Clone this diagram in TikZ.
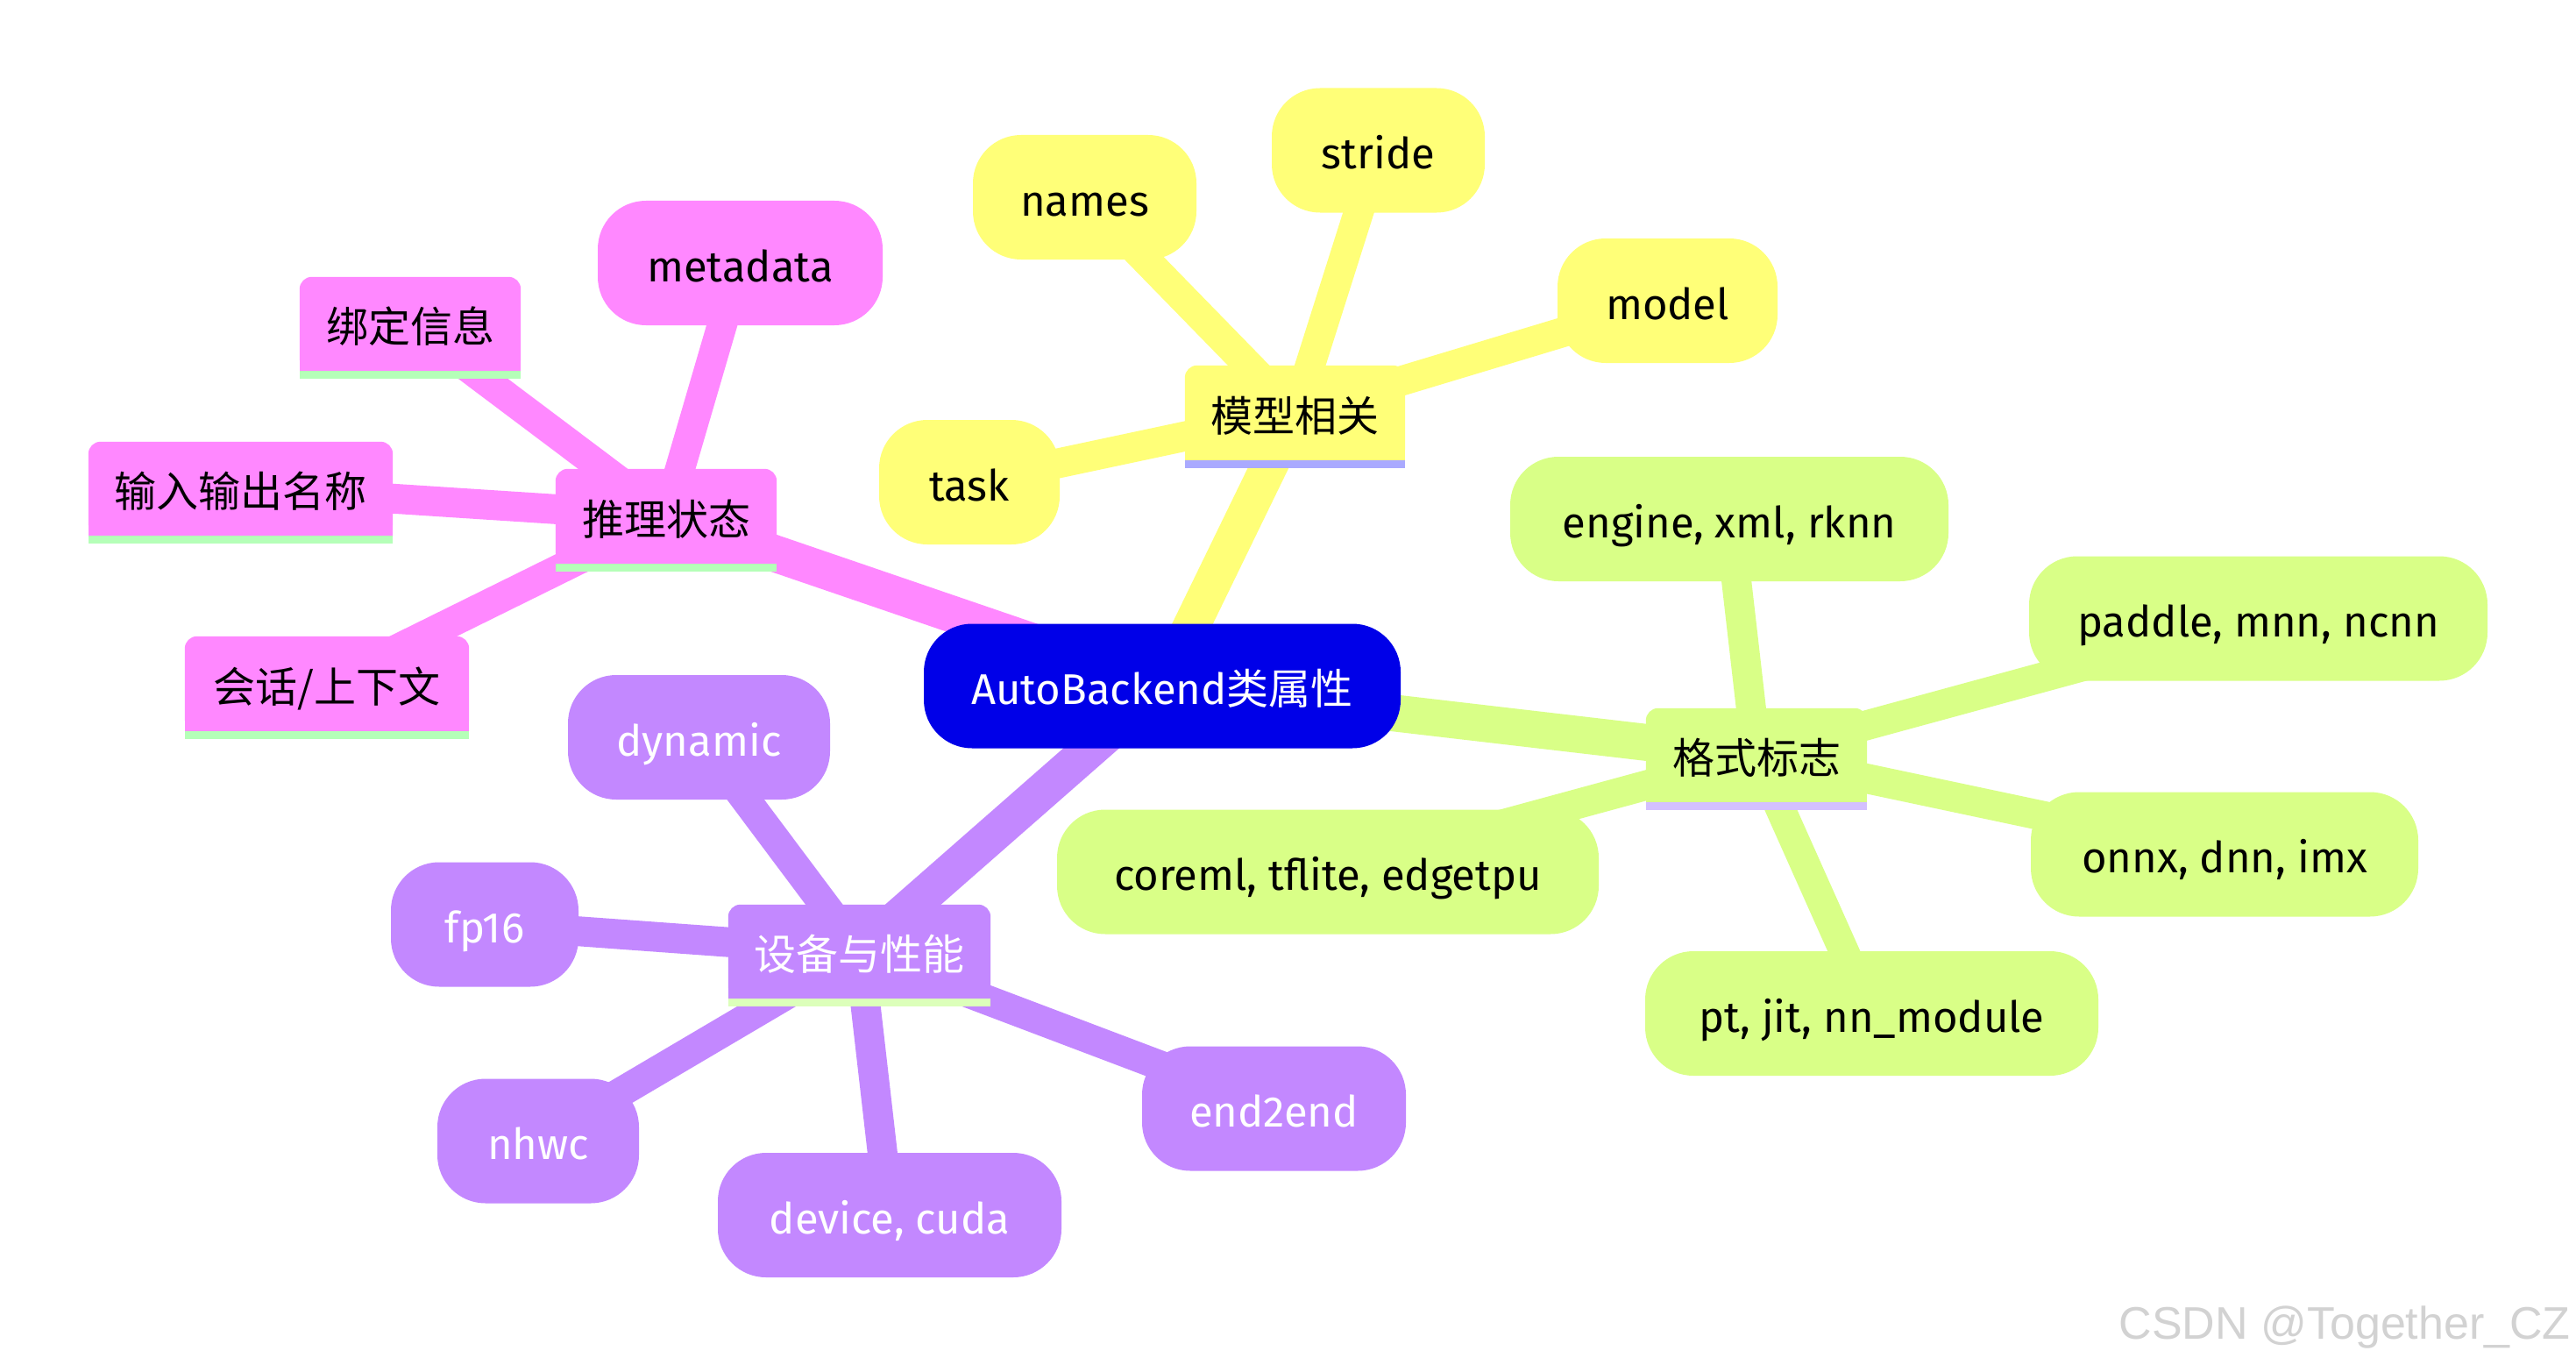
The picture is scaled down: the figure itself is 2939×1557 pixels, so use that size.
\documentclass[tikz,border=0pt]{standalone}
\usepackage{fontspec}
\setmainfont{Fira Sans}
\newfontfamily\cjkraw{Noto Sans CJK SC}
\newcommand\cjk{\cjkraw\fontsize{48}{60}\selectfont}
\newfontfamily\wmfont{Liberation Sans}
\pgfdeclarelayer{edges}
\pgfdeclarelayer{fills}
\pgfsetlayers{edges,fills,main}
\definecolor{rootc}{HTML}{0000E8}
\definecolor{pinkc}{HTML}{FF88FF}
\definecolor{pinkul}{HTML}{B5FFB8}
\definecolor{yelc}{HTML}{FFFF78}
\definecolor{yelul}{HTML}{AAAAFF}
\definecolor{grnc}{HTML}{D9FF87}
\definecolor{grnul}{HTML}{D4C0FF}
\definecolor{purc}{HTML}{C388FF}
\definecolor{purul}{HTML}{DCFFBA}
\definecolor{wmc}{HTML}{D2D2D2}
\newcommand\dbox[3]{%
  \fill[#2, rounded corners=14pt] (#1.north west) rectangle (#1.south east);
  \fill[#2] (#1.west) rectangle (#1.south east);
  \fill[#3] (#1.south west) rectangle ([yshift=-9pt]#1.south east);
}
\tikzset{
  base/.style={font=\fontsize{49}{60}\selectfont, text height=42pt, text depth=0pt, inner sep=0pt, align=center},
  pill/.style={base, rounded corners=55pt, minimum height=142pt},
  boxn/.style={base, minimum height=108pt},
  ezero/.style={line width=42pt},
  eone/.style={line width=34pt},
}
\begin{document}
\begin{tikzpicture}[x=1pt, y=-1pt]
\useasboundingbox (0,0) rectangle (2939,1557);
% root
\node[pill, fill=rootc, text=white, minimum width=544pt] (root) at (1326,782.5) {AutoBackend{\cjk 类属性}};
% sections
\node[boxn, minimum width=252pt] (inf) at (760,589) {\cjk 推理状态};
\node[boxn, minimum width=251pt] (mod) at (1477.5,471) {\cjk 模型相关};
\node[boxn, minimum width=252pt, minimum height=107pt] (fmt) at (2004,861.5) {\cjk 格式标志};
\node[boxn, minimum width=299pt, minimum height=107pt, text=white] (dev) at (980.5,1085.5) {\cjk 设备与性能};
% pink leaves
\node[pill, fill=pinkc, minimum width=325pt] (meta) at (844.5,300) {metadata};
\node[boxn, minimum width=252pt, minimum height=107pt] (bind) at (468,369.5) {\cjk 绑定信息};
\node[boxn, minimum width=347pt, minimum height=107pt] (io) at (274.5,557.5) {\cjk 输入输出名称};
\node[boxn, minimum width=324pt] (sess) at (373,780) {\cjk 会话/上下文};
% yellow leaves
\node[pill, fill=yelc, minimum width=255pt] (names) at (1237.5,225) {names};
\node[pill, fill=yelc, minimum width=243pt] (stride) at (1572.5,171.5) {stride};
\node[pill, fill=yelc, minimum width=251pt] (model) at (1902.5,343) {model};
\node[pill, fill=yelc, minimum width=206pt] (task) at (1106,550) {task};
% green leaves
\node[pill, fill=grnc, minimum width=500pt] (engine) at (1973,592) {engine, xml, rknn};
\node[pill, fill=grnc, minimum width=523pt] (paddle) at (2576.5,705.5) {paddle, mnn, ncnn};
\node[pill, fill=grnc, minimum width=442pt] (onnx) at (2538,974.5) {onnx, dnn, imx};
\node[pill, fill=grnc, minimum width=517pt] (pt) at (2135.5,1156) {pt, jit, nn\_module};
\node[pill, fill=grnc, minimum width=618pt] (coreml) at (1515,994.5) {coreml, tflite, edgetpu};
% purple leaves
\node[pill, fill=purc, text=white, minimum width=299pt] (dynamic) at (797.5,841) {dynamic};
\node[pill, fill=purc, text=white, minimum width=214pt] (fp16) at (553,1054.5) {fp16};
\node[pill, fill=purc, text=white, minimum width=230pt] (nhwc) at (614,1301.5) {nhwc};
\node[pill, fill=purc, text=white, minimum width=392pt] (device) at (1015,1386) {device, cuda};
\node[pill, fill=purc, text=white, minimum width=301pt] (e2e) at (1453.5,1264.5) {end2end};
% watermark
\node[font=\wmfont\fontsize{52}{60}\selectfont, text=wmc, inner sep=0pt, anchor=base east] (wm) at (2933,1527) {CSDN @Together\_CZ};
% box fills
\begin{pgfonlayer}{fills}
\dbox{inf}{pinkc}{pinkul}
\dbox{bind}{pinkc}{pinkul}
\dbox{io}{pinkc}{pinkul}
\dbox{sess}{pinkc}{pinkul}
\dbox{mod}{yelc}{yelul}
\dbox{fmt}{grnc}{grnul}
\dbox{dev}{purc}{purul}
\end{pgfonlayer}
% edges
\begin{pgfonlayer}{edges}
\fill[white] (0,0) rectangle (2939,1557);
\draw[ezero, pinkc] (root.center) -- (inf.center);
\draw[ezero, yelc] (root.center) -- (mod.center);
\draw[ezero, grnc] (root.center) -- (fmt.center);
\draw[ezero, purc] (root.center) -- (dev.center);
\foreach \t in {meta,bind,io,sess} \draw[eone, pinkc] (inf.center) -- (\t.center);
\foreach \t in {names,stride,model,task} \draw[eone, yelc] (mod.center) -- (\t.center);
\foreach \t in {engine,paddle,onnx,pt,coreml} \draw[eone, grnc] (fmt.center) -- (\t.center);
\foreach \t in {dynamic,fp16,nhwc,device,e2e} \draw[eone, purc] (dev.center) -- (\t.center);
\end{pgfonlayer}
\end{tikzpicture}
\end{document}
